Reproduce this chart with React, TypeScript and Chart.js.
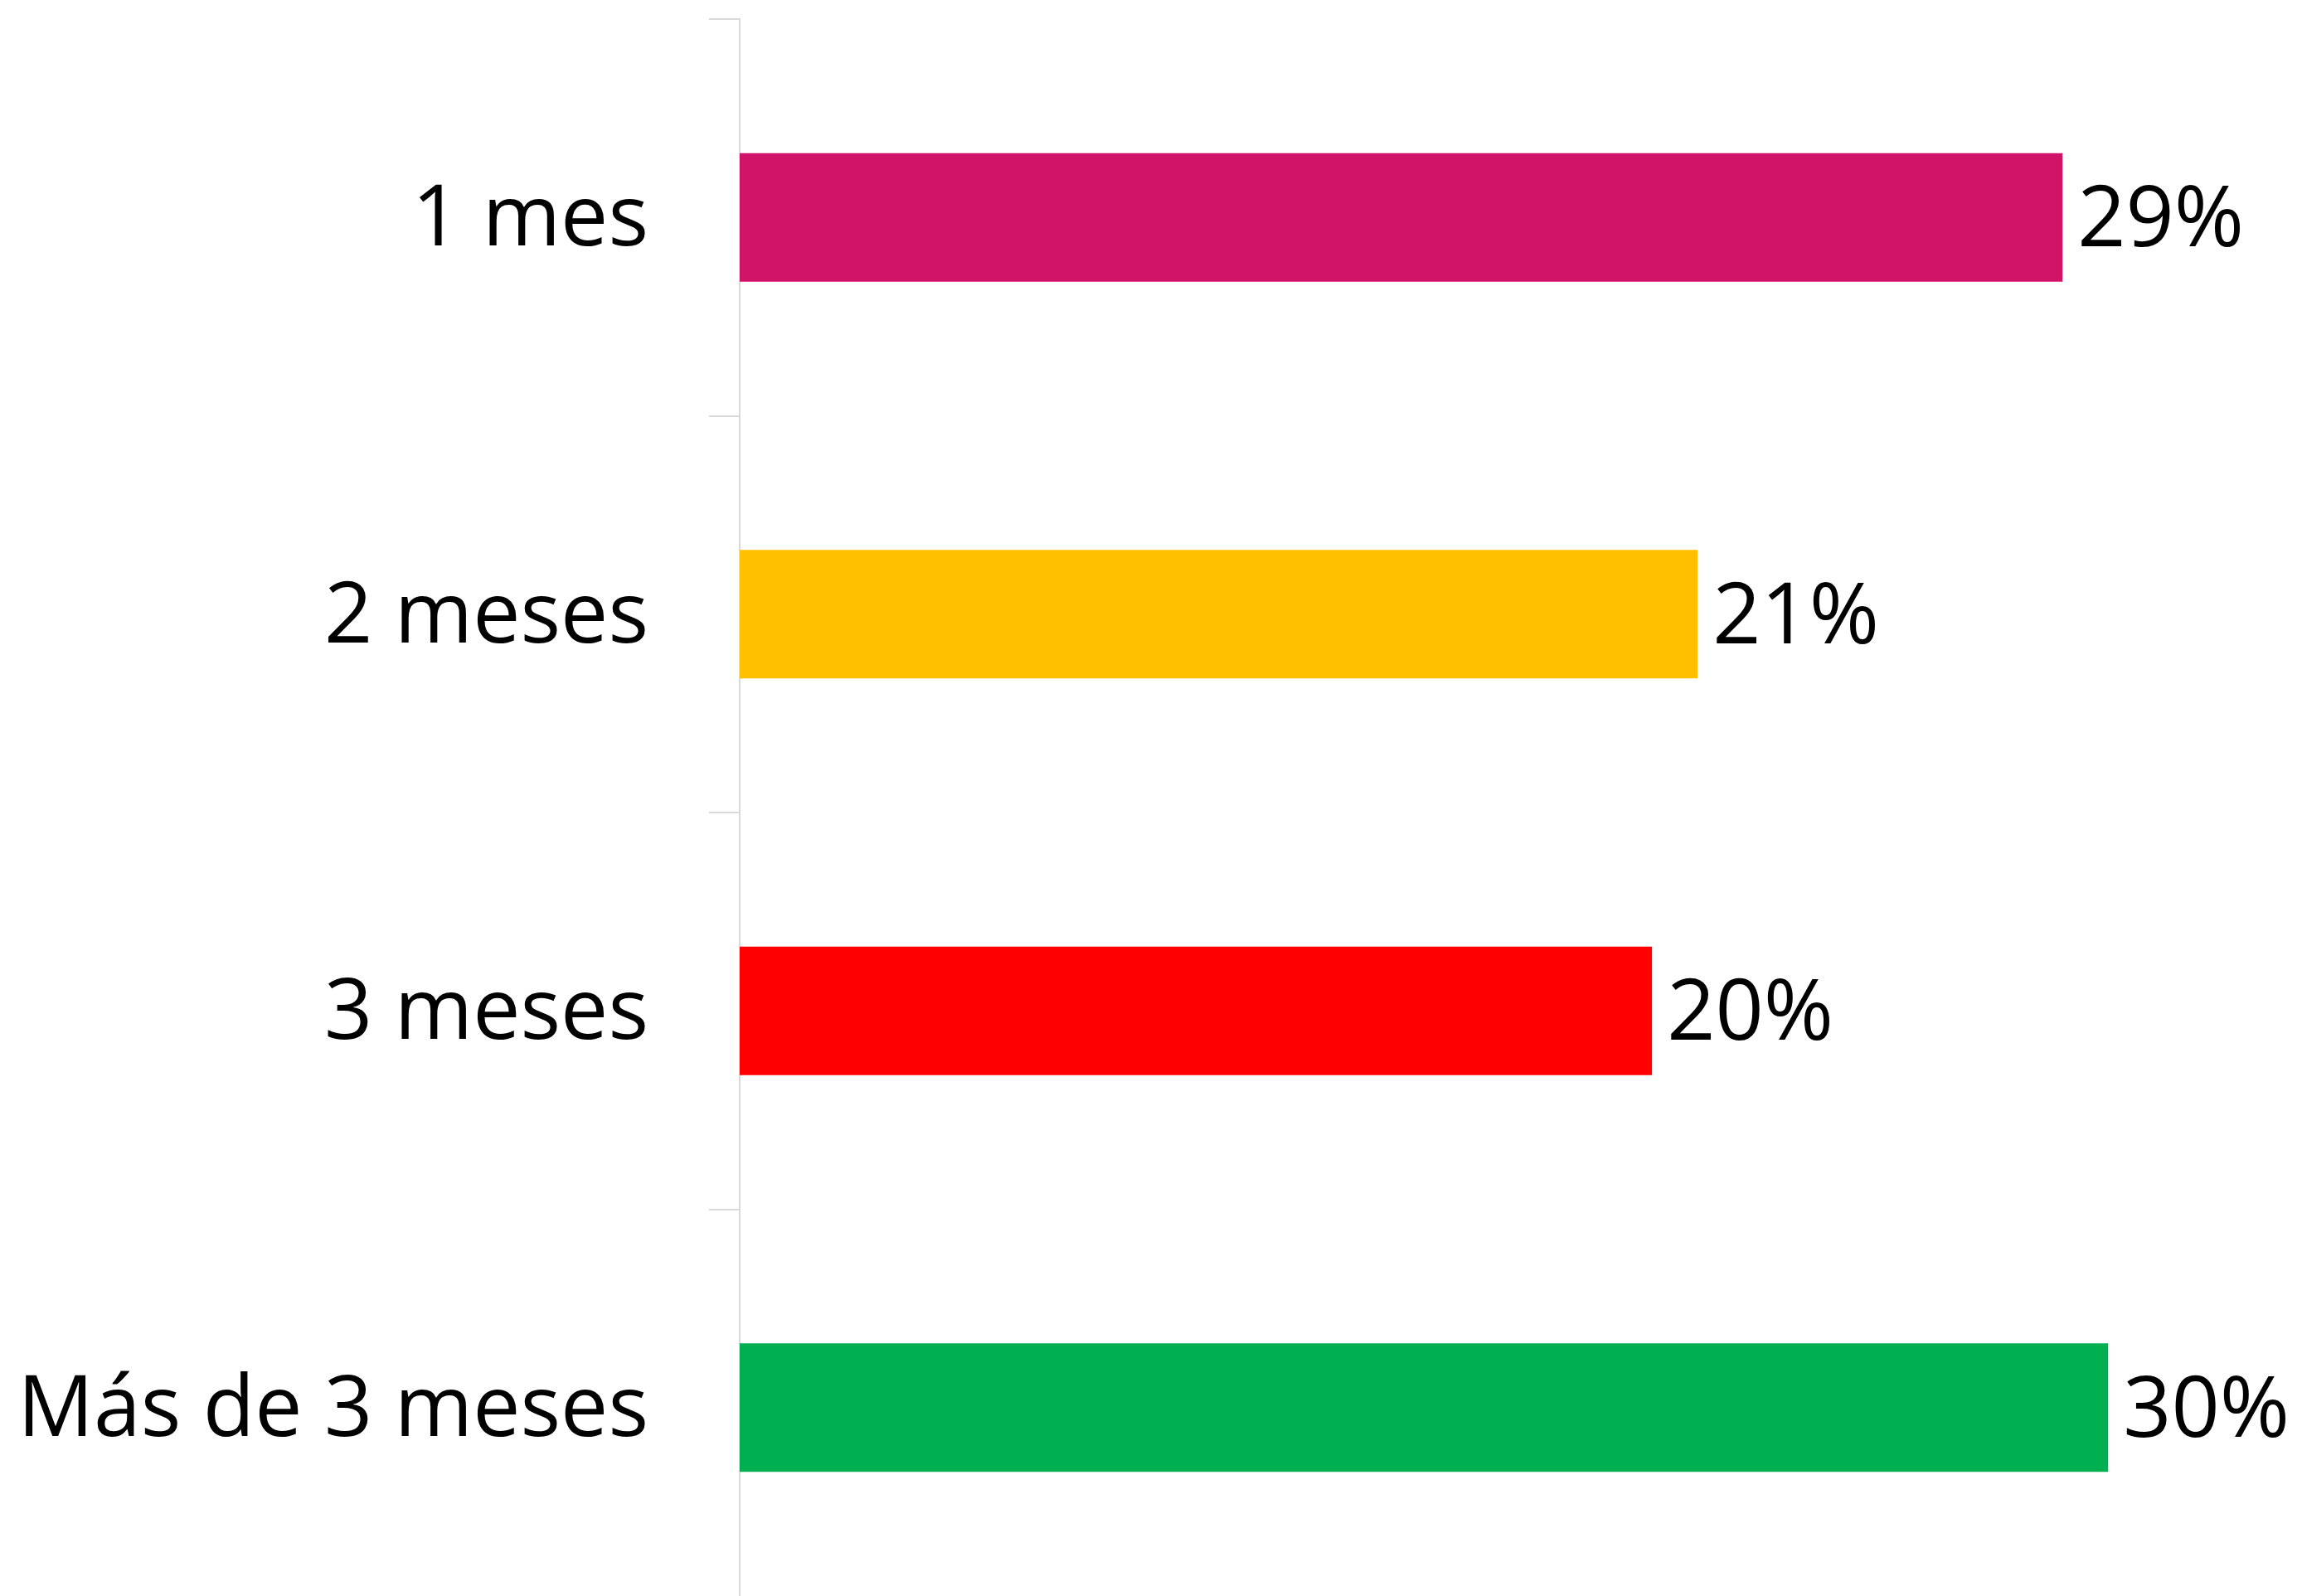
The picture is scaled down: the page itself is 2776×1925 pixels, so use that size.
import React, { useEffect, useRef } from "react";
import { Chart, registerables } from "chart.js";

Chart.register(...registerables);

const categories = ["1 mes", "2 meses", "3 meses", "Más de 3 meses"];
const values = [29, 21, 20, 30];
const barColors = ["#D11367", "#FFC000", "#FF0000", "#00B050"];
const valueLabels = ["29%", "21%", "20%", "30%"];

const FONT = "'Open Sans', 'Noto Sans', sans-serif";

const valueLabelPlugin = {
  id: "valueLabels",
  afterDatasetsDraw(chart: any) {
    const ctx = chart.ctx;
    const meta = chart.getDatasetMeta(0);
    ctx.save();
    ctx.fillStyle = "#000000";
    ctx.font = `102px ${FONT}`;
    ctx.textAlign = "left";
    ctx.textBaseline = "middle";
    meta.data.forEach((bar: any, i: number) => {
      ctx.fillText(valueLabels[i], bar.x + 18, bar.y + 6);
    });
    ctx.restore();
  },
};

export default function App() {
  const canvasRef = useRef<HTMLCanvasElement | null>(null);

  useEffect(() => {
    const canvas = canvasRef.current;
    if (!canvas) return;
    const chart = new Chart(canvas, {
      type: "bar",
      data: {
        labels: categories,
        datasets: [
          {
            data: values,
            backgroundColor: barColors,
            borderWidth: 0,
            categoryPercentage: 1,
            barPercentage: 0.324,
          },
        ],
      },
      options: {
        indexAxis: "y",
        responsive: false,
        animation: false,
        devicePixelRatio: 1,
        layout: { padding: { top: 23, right: 0, bottom: 0, left: 0 } },
        plugins: {
          legend: { display: false },
          tooltip: { enabled: false },
        },
        scales: {
          x: {
            display: false,
            min: 0,
            max: 34.25,
          },
          y: {
            afterFit(scale: any) {
              scale.width = 892;
              scale.paddingTop = 0;
              scale.paddingBottom = 0;
            },
            grid: {
              drawOnChartArea: false,
              drawTicks: true,
              tickLength: 37,
              color: "#D9D9D9",
              lineWidth: 2,
              offset: true,
            },
            border: { display: true, color: "#D9D9D9", width: 2 },
            ticks: {
              color: "#000000",
              padding: 73,
              labelOffset: 5,
              font: { family: FONT, size: 102 },
            },
          },
        },
      },
      plugins: [valueLabelPlugin],
    } as any);
    return () => chart.destroy();
  }, []);

  return (
    <div
      style={{
        position: "fixed",
        top: 0,
        left: 0,
        width: 2776,
        height: 1925,
        overflow: "hidden",
        background: "#ffffff",
      }}
    >
      <canvas
        ref={canvasRef}
        width={2776}
        height={1937}
        style={{ display: "block", width: 2776, height: 1937 }}
      />
    </div>
  );
}
